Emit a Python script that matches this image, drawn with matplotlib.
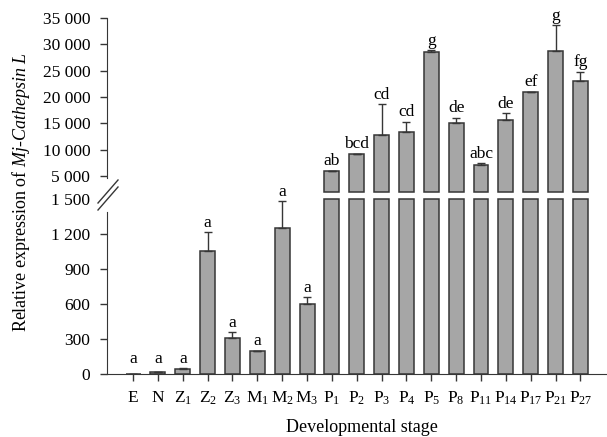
import numpy as np
import matplotlib
matplotlib.use('Agg')
import matplotlib.pyplot as plt
from matplotlib.lines import Line2D

plt.rcParams['font.family'] = 'Liberation Serif'
plt.rcParams['mathtext.fontset'] = 'custom'
plt.rcParams['mathtext.rm'] = 'Liberation Serif'
plt.rcParams['mathtext.it'] = 'Liberation Serif:italic'

stages = ['E', 'N', 'Z$_1$', 'Z$_2$', 'Z$_3$', 'M$_1$', 'M$_2$', 'M$_3$',
          'P$_1$', 'P$_2$', 'P$_3$', 'P$_4$', 'P$_5$', 'P$_8$', 'P$_{11}$',
          'P$_{14}$', 'P$_{17}$', 'P$_{21}$', 'P$_{27}$']
values = [2, 17, 43, 1054, 311, 197, 1254, 602,
          5950, 9150, 12840, 13400, 28640, 15070, 7160, 15700, 20920, 28830, 23100]
errors = [0, 4, 5, 160, 46, 4, 228, 58,
          80, 120, 5790, 1910, 250, 1010, 325, 1200, 100, 4780, 1720]
letters = ['a', 'a', 'a', 'a', 'a', 'a', 'a', 'a',
           'ab', 'bcd', 'cd', 'cd', 'g', 'de', 'abc', 'de', 'ef', 'g', 'fg']

BREAK = 1500
UP_LOW, UP_HIGH = 2000, 35000

fill = '#a6a6a6'
edge = '#363636'
W, H = 607, 437

fig = plt.figure(figsize=(W / 100, H / 100), dpi=100)
ax_up = fig.add_axes([107 / W, 1 - 192 / H, 499 / W, 174 / H])
ax_lo = fig.add_axes([107 / W, 1 - 374 / H, 499 / W, 175 / H])

x = np.arange(len(stages))
vals = np.array(values, dtype=float)
errs = np.array(errors, dtype=float)

# lower part
lo_h = np.minimum(vals, BREAK)
ax_lo.bar(x, lo_h, width=0.6, color=fill, edgecolor=edge, linewidth=1.1, clip_on=False)
small = vals < BREAK
ax_lo.errorbar(x[small], vals[small], yerr=[np.zeros(small.sum()), errs[small]],
               fmt='none', ecolor=edge, elinewidth=1.0, capsize=3.2, capthick=1.0)
for i in np.where(small)[0]:
    ax_lo.annotate(letters[i], (x[i], max(vals[i] + errs[i], 50)), xytext=(0, 1),
                   textcoords='offset points', ha='center', va='bottom', fontsize=12.5)

# upper part
big = ~small
ax_up.bar(x[big], vals[big] - UP_LOW, bottom=UP_LOW, width=0.6, color=fill,
          edgecolor=edge, linewidth=1.1, clip_on=False)
ax_up.errorbar(x[big], vals[big], yerr=[np.zeros(big.sum()), errs[big]],
               fmt='none', ecolor=edge, elinewidth=1.0, capsize=3.2, capthick=1.0)
for i in np.where(big)[0]:
    ax_up.annotate(letters[i], (x[i], vals[i] + errs[i]), xytext=(0, 1),
                   textcoords='offset points', ha='center', va='bottom', fontsize=12.5)

xlim = (-1.05, 19.03)
for ax in (ax_up, ax_lo):
    ax.set_xlim(*xlim)
    ax.spines['top'].set_visible(False)
    ax.spines['right'].set_visible(False)
    ax.spines['left'].set_color(edge)
    ax.tick_params(axis='both', direction='out', length=5, width=1.0, color=edge,
                   labelsize=12.5)
    ax.tick_params(axis='y', pad=7)
    ax.patch.set_visible(False)

ax_up.set_ylim(UP_LOW, UP_HIGH)
ax_up.set_yticks(np.arange(5000, 35001, 5000))
ax_up.set_yticklabels(['5 000', '10 000', '15 000', '20 000', '25 000', '30 000', '35 000'])
ax_up.spines['bottom'].set_visible(False)
ax_up.set_xticks([])
ax_up.spines['left'].set_bounds(4600, UP_HIGH)

ax_lo.set_ylim(0, BREAK)
ax_lo.set_yticks([0, 300, 600, 900, 1200, 1500])
ax_lo.set_yticklabels(['0', '300', '600', '900', '1 200', '1 500'])
ax_lo.yaxis.get_major_ticks()[-1].tick1line.set_visible(False)
ax_lo.spines['left'].set_bounds(0, 1390)
ax_lo.spines['bottom'].set_color(edge)
ax_lo.set_xticks(x)
ax_lo.set_xticklabels(stages)
ax_lo.tick_params(axis='x', pad=6.5)

# break marks
for dy in (0, 7):
    fig.add_artist(Line2D([98 / W, 118 / W], [1 - (203 + dy) / H, 1 - (180 + dy) / H],
                          color=edge, linewidth=1.0))

fig.text(362 / W, 1 - 427 / H, 'Developmental stage', ha='center', va='center', fontsize=13)
fig.text(21 / W, 1 - 192 / H, 'Relative expression of $\\mathit{Mj}$-$\\mathit{Cathepsin\\ L}$',
         rotation=90, ha='center', va='center', fontsize=13)

fig.savefig('out.png', dpi=100)
